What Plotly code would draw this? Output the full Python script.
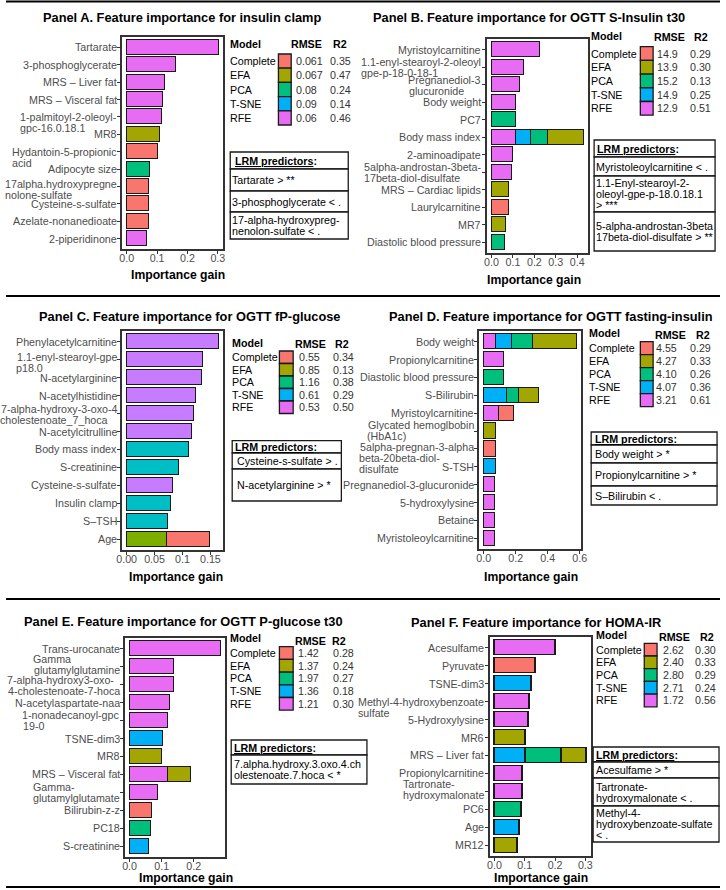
import plotly.graph_objects as go

W, H = 726, 890
N = None
FONT = "Liberation Sans"

MODELS = ["Complete", "EFA", "PCA", "T-SNE", "RFE"]
STACK_ORDER = ["RFE", "T-SNE", "PCA", "EFA", "Complete"]
PALETTE = {"Complete": "#F8766D", "EFA": "#A3A500", "PCA": "#00BF7D", "T-SNE": "#00B0F6", "RFE": "#E76BF3"}
PALETTE_C = {"Complete": "#F8766D", "EFA": "#7CAE00", "PCA": "#00BF7D", "T-SNE": "#00BFC4", "RFE": "#C77CFF"}

# ---------------- Panel A ----------------
a_title = "Panel A. Feature importance for insulin clamp"
a_features = ["Tartarate", "3-phosphoglycerate", "MRS – Liver fat", "MRS – Visceral fat",
              "1-palmitoyl-2-oleoyl-<br>gpc-16.0.18.1", "MR8", "Hydantoin-5-propionic<br>acid",
              "Adipocyte size", "17alpha.hydroxypregne<br>nolone-sulfate", "Cysteine-s-sulfate",
              "Azelate-nonanedioate", "2-piperidinone"]
a_rfe      = [0.303, 0.163, 0.126, 0.120, 0.116, N, N, N, N, N, N, 0.068]
a_tsne     = [N, N, N, N, N, N, N, N, N, N, N, N]
a_pca      = [N, N, N, N, N, N, N, 0.077, N, N, N, N]
a_efa      = [N, N, N, N, N, 0.110, N, N, N, N, N, N]
a_complete = [N, N, N, N, N, N, 0.104, N, 0.074, 0.074, 0.074, N]
a_rmse = ["0.061", "0.067", "0.08", "0.09", "0.06"]
a_r2 = ["0.35", "0.47", "0.24", "0.14", "0.46"]
a_lrm = ["Tartarate > **", "3-phosphoglycerate < .", "17-alpha-hydroxypreg-<br>nenolon-sulfate < ."]
a_xticks = [0, 0.1, 0.2, 0.3]
a_xticktext = ["0.0", "0.1", "0.2", "0.3"]

# ---------------- Panel B ----------------
b_title = "Panel B. Feature importance for OGTT S-Insulin t30"
b_features = ["Myristoylcarnitine", "1.1-enyl-stearoyl-2-oleoyl<br>gpe-p-18-0-18-1", "Pregnanediol-3<br>glucuronide",
              "Body weight", "PC7", "Body mass index", "2-aminoadipate",
              "5alpha-androstan-3beta-<br>17beta-diol-disulfate", "MRS – Cardiac lipids", "Laurylcarnitine",
              "MR7", "Diastolic blood pressure"]
b_rfe      = [0.225, 0.151, 0.133, 0.115, N, 0.115, 0.100, 0.097, N, N, N, N]
b_tsne     = [N, N, N, N, N, 0.068, N, N, N, N, N, N]
b_pca      = [N, N, N, N, 0.113, 0.082, N, N, N, N, N, 0.064]
b_efa      = [N, N, N, N, N, 0.165, N, N, 0.083, N, 0.069, N]
b_complete = [N, N, N, N, N, N, N, N, N, 0.079, N, N]
b_rmse = ["14.9", "13.9", "15.2", "14.9", "12.9"]
b_r2 = ["0.29", "0.30", "0.13", "0.25", "0.51"]
b_lrm = ["Myristoleoylcarnitine < .", "1.1-Enyl-stearoyl-2-<br>oleoyl-gpe-p-18.0.18.1<br>> ***",
         "5-alpha-androstan-3beta<br>17beta-diol-disulfate > **"]
b_xticks = [0, 0.1, 0.2, 0.3, 0.4]
b_xticktext = ["0.0", "0.1", "0.2", "0.3", "0.4"]

# ---------------- Panel C ----------------
c_title = "Panel C. Feature importance for OGTT fP-glucose"
c_features = ["Phenylacetylcarnitine", "1.1-enyl-stearoyl-gpe<br>p18.0", "N-acetylarginine", "N-acetylhistidine",
              "7-alpha-hydroxy-3-oxo-4<br>cholestenoate_7_hoca", "N-acetylcitrulline", "Body mass index",
              "S-creatinine", "Cysteine-s-sulfate", "Insulin clamp", "S–TSH", "Age"]
c_rfe      = [0.165, 0.1375, 0.1345, 0.125, 0.121, 0.117, N, N, 0.084, N, N, N]
c_tsne     = [N, N, N, N, N, N, 0.112, 0.093, N, 0.0797, 0.075, N]
c_pca      = [N, N, N, N, N, N, N, N, N, N, N, N]
c_efa      = [N, N, N, N, N, N, N, N, N, N, N, 0.0726]
c_complete = [N, N, N, N, N, N, N, N, N, N, N, 0.077]
c_rmse = ["0.55", "0.85", "1.16", "0.61", "0.53"]
c_r2 = ["0.34", "0.13", "0.38", "0.29", "0.50"]
c_lrm = ["Cysteine-s-sulfate > .", "N-acetylarginine > *"]
c_xticks = [0, 0.05, 0.1, 0.15]
c_xticktext = ["0.00", "0.05", "0.1", "0.15"]

# ---------------- Panel D ----------------
d_title = "Panel D. Feature importance for OGTT fasting-insulin"
d_features = ["Body weight", "Propionylcarnitine", "Diastolic blood pressure", "S-Bilirubin",
              "Myristoylcarnitine", "Glycated hemoglbobin<br>(HbA1c)",
              "5alpha-pregnan-3-alpha<br>beta-20beta-diol-<br>disulfate", "S-TSH",
              "Pregnanediol-3-glucuronide", "5-hydroxylysine", "Betaine", "Myristoleoylcarnitine"]
d_rfe      = [0.076, 0.128, N, N, 0.093, N, N, N, 0.072, 0.070, 0.068, 0.068]
d_tsne     = [0.103, N, N, 0.144, N, N, N, 0.076, N, N, N, N]
d_pca      = [0.130, N, 0.128, 0.076, N, N, N, N, N, N, N, N]
d_efa      = [0.272, N, N, 0.124, N, 0.080, N, N, N, N, N, N]
d_complete = [N, N, N, N, 0.097, N, 0.076, N, N, N, N, N]
d_rmse = ["4.55", "4.27", "4.10", "4.07", "3.21"]
d_r2 = ["0.29", "0.33", "0.26", "0.36", "0.61"]
d_lrm = ["Body weight > *", "Propionylcarnitine > *", "S–Bilirubin < ."]
d_xticks = [0, 0.2, 0.4, 0.6]
d_xticktext = ["0.0", "0.2", "0.4", "0.6"]

# ---------------- Panel E ----------------
e_title = "Panel E. Feature importance for OGTT P-glucose t30"
e_features = ["Trans-urocanate", "Gamma<br>glutamylglutamine", "7-alpha-hydroxy3-oxo-<br>4-cholestenoate-7-hoca",
              "N-acetylaspartate-naa", "1-nonadecanoyl-gpc<br>19-0", "TSNE-dim3", "MR8", "MRS – Visceral fat",
              "Gamma-<br>glutamylglutamate", "Bilirubin-z-z", "PC18", "S-creatinine"]
e_rfe      = [0.284, 0.138, 0.137, 0.126, 0.121, N, N, 0.119, 0.089, N, N, N]
e_tsne     = [N, N, N, N, N, 0.104, N, N, N, N, N, 0.060]
e_pca      = [N, N, N, N, N, N, N, N, N, N, 0.067, N]
e_efa      = [N, N, N, N, N, N, 0.100, 0.071, N, N, N, N]
e_complete = [N, N, N, N, N, N, N, N, N, 0.071, N, N]
e_rmse = ["1.42", "1.37", "1.97", "1.36", "1.21"]
e_r2 = ["0.28", "0.24", "0.27", "0.18", "0.30"]
e_lrm = ["7.alpha.hydroxy.3.oxo.4.ch<br>olestenoate.7.hoca < *"]
e_xticks = [0, 0.1, 0.2]
e_xticktext = ["0.0", "0.1", "0.2"]

# ---------------- Panel F ----------------
f_title = "Panel F. Feature importance for HOMA-IR"
f_features = ["Acesulfame", "Pyruvate", "TSNE-dim3", "Methyl-4-hydroxybenzoate<br>sulfate", "5-Hydroxylysine",
              "MR6", "MRS – Liver fat", "Propionylcarnitine", "Tartronate-<br>hydroxymalonate", "PC6", "Age", "MR12"]
f_rfe      = [0.202, N, N, 0.118, 0.113, N, N, 0.095, 0.095, N, N, N]
f_tsne     = [N, N, 0.124, N, N, N, 0.104, N, N, N, 0.084, N]
f_pca      = [N, N, N, N, N, N, 0.119, N, N, 0.092, N, N]
f_efa      = [N, N, N, N, N, 0.104, 0.081, N, N, N, N, 0.078]
f_complete = [N, 0.138, N, N, N, N, N, N, N, N, N, N]
f_rmse = ["2.62", "2.40", "2.80", "2.71", "1.72"]
f_r2 = ["0.30", "0.33", "0.29", "0.24", "0.56"]
f_lrm = ["Acesulfame > *", "Tartronate-<br>hydroxymalonate < .", "Methyl-4-<br>hydroxybenzoate-sulfate<br>< ."]
f_xticks = [0, 0.1, 0.2, 0.3]
f_xticktext = ["0.0", "0.1", "0.2", "0.3"]

# ---------------- geometry (pixels) ----------------
GEOM = {
    "A": dict(plot=(118, 221, 37, 249), title=(179, 18), xlab=(175, 275), model=(228, 44), hdr=(306, 340, 44),
              sq=(277, 290, 54, 14.2), vals=(295, 329), names_x=228,
              lrm=(228, 348, [152, 169, 191, 212, 239]), lrm_tx=230, lrm_hx=233,
              label_shift={4: 5.5, 6: 6.0, 8: 3.0}),
    "B": dict(plot=(489, 592, 39, 253), title=(532, 18), xlab=(537, 280), model=(595, 36), hdr=(675, 707, 37),
              sq=(645, 658, 46.7, 13.7), vals=(662, 695), names_x=595,
              lrm=(598, 721, [140, 157, 176, 212, 251]), lrm_tx=600, lrm_hx=601,
              label_shift={2: 1.2}),
    "C": dict(plot=(118, 221, 331, 550), title=(187, 316), xlab=(173, 577), model=(230, 343), hdr=(310, 342, 344),
              sq=(278, 292, 351, 12.5), vals=(298, 332), names_x=230,
              lrm=(230, 341, [440.7, 453, 469, 501]), lrm_tx=235, lrm_hx=233,
              label_shift={1: 3.0, 4: 0.5}),
    "D": dict(plot=(481, 585, 331, 549), title=(554, 317), xlab=(534, 577), model=(593, 333), hdr=(676, 709, 335),
              sq=(645, 658, 341.7, 13), vals=(661, 696), names_x=593,
              lrm=(595, 723, [432, 445, 463, 486, 505]), lrm_tx=598.7, lrm_hx=598.7,
              label_shift={5: -1.0, 6: 9.5}),
    "E": dict(plot=(121, 223, 638, 857), title=(180, 621), xlab=(183, 877.5), model=(228, 638), hdr=(310, 339, 641),
              sq=(278, 292, 646.7, 12.7), vals=(297, 332), names_x=228,
              lrm=(229, 367, [740, 755, 784]), lrm_tx=231.7, lrm_hx=231.7,
              label_shift={1: -2.5, 2: 0.5}),
    "F": dict(plot=(492, 595, 637, 856), title=(539, 622), xlab=(544, 877.5), model=(600, 635), hdr=(680, 713, 637),
              sq=(649, 662, 643.3, 12.7), vals=(668, 701), names_x=600,
              lrm=(597, 725, [747, 762, 778, 806, 842]), lrm_tx=599.7, lrm_hx=599.7,
              label_shift={3: 5.5, 8: -1.5}),
}

panels = [
    ("A", a_title, a_features, {"RFE": a_rfe, "T-SNE": a_tsne, "PCA": a_pca, "EFA": a_efa, "Complete": a_complete},
     a_rmse, a_r2, a_lrm, a_xticks, a_xticktext, PALETTE),
    ("B", b_title, b_features, {"RFE": b_rfe, "T-SNE": b_tsne, "PCA": b_pca, "EFA": b_efa, "Complete": b_complete},
     b_rmse, b_r2, b_lrm, b_xticks, b_xticktext, PALETTE),
    ("C", c_title, c_features, {"RFE": c_rfe, "T-SNE": c_tsne, "PCA": c_pca, "EFA": c_efa, "Complete": c_complete},
     c_rmse, c_r2, c_lrm, c_xticks, c_xticktext, PALETTE_C),
    ("D", d_title, d_features, {"RFE": d_rfe, "T-SNE": d_tsne, "PCA": d_pca, "EFA": d_efa, "Complete": d_complete},
     d_rmse, d_r2, d_lrm, d_xticks, d_xticktext, PALETTE),
    ("E", e_title, e_features, {"RFE": e_rfe, "T-SNE": e_tsne, "PCA": e_pca, "EFA": e_efa, "Complete": e_complete},
     e_rmse, e_r2, e_lrm, e_xticks, e_xticktext, PALETTE),
    ("F", f_title, f_features, {"RFE": f_rfe, "T-SNE": f_tsne, "PCA": f_pca, "EFA": f_efa, "Complete": f_complete},
     f_rmse, f_r2, f_lrm, f_xticks, f_xticktext, PALETTE),
]

TEXT_SIZE = 10.7
LINE_H = 11
TICK_LINE_H = 11
LABEL_GAP = 5.5

# Arial / Liberation Sans advance widths (per 1000 em) used to left-align wrapped axis labels
_AW = {" ": 278, "-": 333, ".": 278, "_": 556, "(": 333, ")": 333, "–": 556,
       "A": 667, "B": 667, "C": 722, "D": 722, "E": 667, "F": 611, "G": 778, "H": 722, "I": 278, "J": 500,
       "K": 667, "L": 556, "M": 833, "N": 722, "O": 778, "P": 667, "Q": 778, "R": 722, "S": 667, "T": 611,
       "U": 722, "V": 667, "W": 944, "X": 667, "Y": 667, "Z": 611,
       "a": 556, "b": 556, "c": 500, "d": 556, "e": 556, "f": 278, "g": 556, "h": 556, "i": 222, "j": 222,
       "k": 500, "l": 222, "m": 833, "n": 556, "o": 556, "p": 556, "q": 556, "r": 333, "s": 500, "t": 278,
       "u": 556, "v": 500, "w": 722, "x": 500, "y": 500, "z": 500}


def text_width(s, size):
    return sum(_AW.get(ch, 556) for ch in s) * size / 1000.0


def px(x):
    return x / W


def py(y):
    return 1 - y / H


def ann(text, x, y, size=TEXT_SIZE, color="black", bold=False, xanchor="left", yanchor="middle"):
    return dict(text=f"<b>{text}</b>" if bold else text, x=px(x), y=py(y), xref="paper", yref="paper",
                showarrow=False, xanchor=xanchor, yanchor=yanchor, borderpad=0, borderwidth=0,
                font=dict(family=FONT, size=size, color=color))


def rect(x0, x1, y0, y1, fill="white", line="#1A1A1A", width=1.2):
    return dict(type="rect", xref="paper", yref="paper", x0=px(x0), x1=px(x1), y0=py(y1), y1=py(y0),
                fillcolor=fill, line=dict(color=line, width=width), layer="above")


fig = go.Figure()
annotations = []
shapes = []
layout_axes = {}

for i, (key, title, feats, series, rmse, r2, lrm, xt, xtt, pal) in enumerate(panels, start=1):
    g = GEOM[key]
    sfx = "" if i == 1 else str(i)
    xa, ya = "x" + sfx, "y" + sfx
    for m in STACK_ORDER:
        vals = series[m]
        if all(v is None for v in vals):
            continue
        fig.add_trace(go.Bar(y=feats, x=vals, orientation="h", width=0.86,
                             marker=dict(color=pal[m], line=dict(color="#1A1A1A", width=1.4)),
                             xaxis=xa, yaxis=ya, showlegend=False, hoverinfo="skip"))
    totals = []
    for k in range(len(feats)):
        totals.append(sum(series[m][k] for m in STACK_ORDER if series[m][k] is not None))
    mx = max(totals)
    x0, x1, y0, y1 = g["plot"]
    tickfont = dict(family=FONT, size=TEXT_SIZE, color="#4D4D4D")
    layout_axes["xaxis" + sfx] = dict(domain=[px(x0), px(x1)], anchor=ya, range=[-0.05 * mx, 1.05 * mx],
                                      tickmode="array", tickvals=xt, ticktext=xtt, ticks="outside", ticklen=3,
                                      tickcolor="#333333", tickfont=tickfont, ticklabelstandoff=-5,
                                      showgrid=False, zeroline=False,
                                      showline=True, mirror=True, linecolor="#333333", linewidth=1.5,
                                      fixedrange=True)
    layout_axes["yaxis" + sfx] = dict(domain=[py(y1), py(y0)], anchor=xa, type="category",
                                      categoryorder="array", categoryarray=feats,
                                      range=[len(feats) - 0.4, -0.6], tickmode="array", tickvals=feats,
                                      showticklabels=False, ticks="outside", ticklen=3, tickcolor="#333333",
                                      showgrid=False, zeroline=False, showline=True,
                                      mirror=True, linecolor="#333333", linewidth=1.5, fixedrange=True)
    # y category labels: wrapped lines, block right-aligned to the axis, lines left-aligned in the block
    for k, feat in enumerate(feats):
        lines = feat.split("<br>")
        widths = [text_width(s, TEXT_SIZE) for s in lines]
        wmax = max(widths)
        shift = g["label_shift"].get(k, 0)
        for j, line in enumerate(lines):
            ys = ((len(lines) - 1) / 2 - j) * TICK_LINE_H - shift
            if widths[j] >= wmax:
                xanc, xs = "right", -LABEL_GAP
            else:
                xanc, xs = "left", -LABEL_GAP - wmax
            annotations.append(dict(text=line, xref=xa + " domain", x=0, yref=ya, y=k, xshift=xs, yshift=ys,
                                    xanchor=xanc, yanchor="middle", showarrow=False, borderpad=0,
                                    borderwidth=0, font=tickfont))
    # titles
    annotations.append(ann(title, g["title"][0], g["title"][1], size=12.8, bold=True, xanchor="center"))
    annotations.append(ann("Importance gain", g["xlab"][0], g["xlab"][1], size=12.2, bold=True, xanchor="center"))
    # model table (legend keys always use the standard five-model palette)
    annotations.append(ann("Model", g["model"][0], g["model"][1], bold=True))
    annotations.append(ann("RMSE", g["hdr"][0], g["hdr"][2], bold=True, xanchor="center"))
    annotations.append(ann("R2", g["hdr"][1], g["hdr"][2], bold=True, xanchor="center"))
    sx0, sx1, stop, sh = g["sq"]
    for r, m in enumerate(MODELS):
        cy = stop + (r + 0.5) * sh
        shapes.append(rect(sx0, sx1, stop + r * sh, stop + (r + 1) * sh, fill=PALETTE[m], width=1.3))
        annotations.append(ann(m, g["names_x"], cy))
        annotations.append(ann(rmse[r], g["vals"][0], cy, color="#333333"))
        annotations.append(ann(r2[r], g["vals"][1], cy, color="#333333"))
    # LRM predictors box
    lx0, lx1, rows = g["lrm"]
    for r in range(len(rows) - 1):
        shapes.append(rect(lx0, lx1, rows[r], rows[r + 1], width=1.3))
    annotations.append(ann("<u>LRM predictors</u>:", g["lrm_hx"], (rows[0] + rows[1]) / 2 + 0.5, bold=True))
    for r, txt in enumerate(lrm):
        lines = txt.split("<br>")
        cy = (rows[r + 1] + rows[r + 2]) / 2
        for k, line in enumerate(lines):
            ly = cy + (k - (len(lines) - 1) / 2) * LINE_H
            annotations.append(ann(line, g["lrm_tx"], ly))

# separator lines
for yy in [1.5, 296, 599, 887]:
    shapes.append(dict(type="line", xref="paper", yref="paper", x0=0, x1=1, y0=py(yy), y1=py(yy),
                       line=dict(color="black", width=2)))

fig.update_layout(
    width=W, height=H, margin=dict(l=0, r=0, t=0, b=0),
    paper_bgcolor="white", plot_bgcolor="white",
    barmode="stack", bargap=0, showlegend=False, hovermode=False,
    annotations=annotations, shapes=shapes,
    font=dict(family=FONT, size=TEXT_SIZE, color="black"),
    **layout_axes,
)

fig.write_html("out.html", config={"displayModeBar": False},
               post_script="document.body.style.margin='0';document.body.style.overflow='hidden';")
